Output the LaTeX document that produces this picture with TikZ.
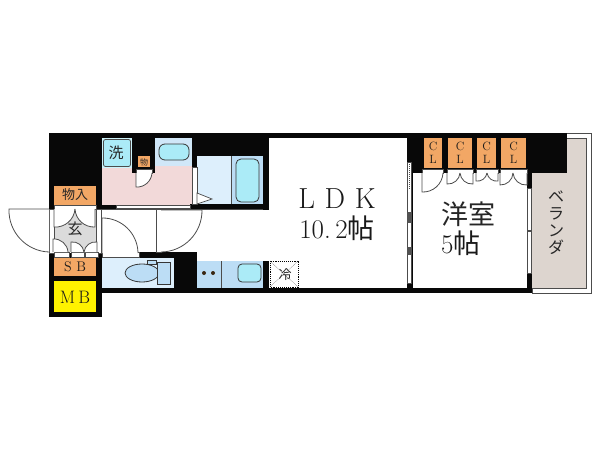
\documentclass[tikz,border=0pt]{standalone}
\usepackage{fontspec}
\newfontfamily\cjk{Noto Sans CJK JP}
\definecolor{mainBlack}{gray}{0.03}
\definecolor{lineGray}{gray}{0.3}
\definecolor{closetOrange}{HTML}{F2A765}
\definecolor{paleBlue}{HTML}{DDEFFC}
\definecolor{midBlue}{HTML}{BCDDF5}
\definecolor{tubBlue}{HTML}{ABEBF7}
\definecolor{washPink}{HTML}{F2D9D9}
\definecolor{porchGray}{HTML}{DBDBDB}
\definecolor{decoBeige}{HTML}{DDD5CF}
\tikzset{
  leaf/.style={draw=lineGray, fill=white, line width=0.8pt},
  strip/.style={draw=lineGray, fill=white, line width=0.7pt},
  tub/.style={draw=lineGray!70!black, fill=tubBlue, line width=0.8pt, rounded corners=4pt},
  tag/.style={font=\cjk, text=black!85, inner sep=0pt},
  roomtext/.style={text=black!90, inner sep=0pt},
}
\begin{document}
\begin{tikzpicture}[x=1pt, y=-1pt]
    \useasboundingbox (0,0) rectangle (600,450);

    % balcony
    \draw[lineGray, line width=0.8pt] (532,133) rectangle (591,293);
    \fill[decoBeige] (532,138) rectangle (586,288);
    \draw[lineGray, line width=0.8pt] (532,288) -- (586,288) -- (586,138) -- (567,138);

    % coloured rooms
    \fill[washPink] (102,166) rectangle (192,205);
    \fill[paleBlue] (197,156) rectangle (231,204);
    \fill[midBlue] (231,156) rectangle (263,204);
    \fill[tubBlue!60] (102,138) rectangle (132,168);
    \fill[midBlue!70] (155,138) rectangle (192,166);
    \fill[paleBlue] (102,257) rectangle (174,288);
    \fill[midBlue] (197,261) rectangle (263,288);
    \fill[porchGray] (54,209) rectangle (96,252);

    % walls
    \fill[mainBlack] (49,133) rectangle (567,138);
    \fill[mainBlack] (49,133) rectangle (102,209);
    \fill[mainBlack] (132,133) rectangle (155,173);
    \fill[mainBlack] (192,133) rectangle (269,156);
    \fill[mainBlack] (192,133) rectangle (197,167);
    \fill[mainBlack] (263,133) rectangle (269,210);
    \fill[mainBlack] (190,204) rectangle (269,210);
    \fill[mainBlack] (100,205) rectangle (116,209);
    \fill[mainBlack] (407,133) rectangle (567,173);
    \fill[mainBlack] (49,253) rectangle (102,317);
    \fill[mainBlack] (139,252) rectangle (197,258);
    \fill[mainBlack] (174,252) rectangle (197,293);
    \fill[mainBlack] (102,288) rectangle (197,293);
    \fill[mainBlack] (263,261) rectangle (269,293);
    \fill[mainBlack] (197,288) rectangle (532,293);
    \fill[mainBlack] (527,173) rectangle (532,188);
    \fill[mainBlack] (527,273) rectangle (532,293);
    \fill[mainBlack] (411,173) rectangle (412.5,288);
    \fill[mainBlack] (407,283) rectangle (412,293);

    % sliding strips
    \filldraw[strip] (192.5,167) rectangle (197,204);
    \filldraw[strip] (116,205) rectangle (190,208.5);
    \draw[white, densely dashed, line width=1.4pt] (153,207) -- (190,207);
    \filldraw[strip] (407.5,162) rectangle (411,283);
    \draw[lineGray, densely dotted, line width=1pt] (409,164) -- (409,190);
    \fill[mainBlack!70] (407,212) rectangle (412,223);
    \fill[mainBlack!70] (407,247) rectangle (412,255);
    \filldraw[strip] (527.5,188) rectangle (531.5,273);
    \draw[lineGray, line width=1.2pt] (527,231) -- (532,231);
    \draw[lineGray, line width=0.8pt] (100,209.5) -- (156,209.5);
    \draw[lineGray, line width=0.8pt] (161,209.5) -- (263,209.5);

    % hall walls
    \filldraw[strip] (49.5,209) rectangle (54,253);
    \filldraw[strip] (96,209) rectangle (101,253);
    \filldraw[strip] (156,209.5) rectangle (161,252.5);
    \filldraw[strip] (54,205) rectangle (96,209);
    \filldraw[strip] (54,252.5) rectangle (69,257);
    \filldraw[strip] (71,252.5) rectangle (84,257);
    \filldraw[strip] (85,252.5) rectangle (98,257);
    \filldraw[strip] (102,252.5) rectangle (139,257);
    \filldraw[strip] (136,169.5) rectangle (152,173);
    \filldraw[strip] (422,169) rectangle (443,173);
    \filldraw[strip] (447,169) rectangle (473,173);
    \filldraw[strip] (476,169) rectangle (498,173);
    \filldraw[strip] (500,169) rectangle (527,173);

    % doors
    \path[leaf] (49,209) -- (9,209) to[bend right=45] (49,252);
    \path[leaf] (161,252) to[bend right=45] (202,210) -- (161,210);
    \path[leaf] (102,253) -- (102,218) to[bend left=45] (138,253);
    \path[leaf] (136,173) -- (136,187) to[bend right=45] (152,173);
    \path[leaf] (54,209) -- (54,227) to[bend right=45] (75,209);
    \path[leaf] (95,209) -- (95,227) to[bend left=45] (75,209);
    \path[leaf] (53,252) -- (53,239) to[bend left=45] (68,252);
    \path[leaf] (71,252) -- (71,242) to[bend left=45] (84,252);
    \path[leaf] (97,252) -- (97,242) to[bend right=45] (84,252);
    \path[leaf] (422,173) -- (422,192) to[bend right=45] (443,173);
    \path[leaf] (447,173) -- (447,184) to[bend right=45] (460,173);
    \path[leaf] (473,173) -- (473,184) to[bend left=45] (460,173);
    \path[leaf] (476,173) -- (476,181) to[bend right=45] (487,173);
    \path[leaf] (498,173) -- (498,181) to[bend left=45] (487,173);
    \path[leaf] (500,173) -- (500,185) to[bend right=45] (513,173);
    \path[leaf] (527,173) -- (527,185) to[bend left=45] (513,173);

    % fixtures
    \draw[lineGray, line width=0.8pt, fill=tubBlue, rounded corners=2pt] (103.5,139.5) rectangle (130.5,166.5);
    \draw[tub, rounded corners=6pt] (159,144) rectangle (189,160);
    \draw[tub, rounded corners=5pt] (236,159) rectangle (259,202);
    \draw[lineGray, line width=0.7pt] (231,156) -- (231,204);
    \filldraw[draw=lineGray, fill=white, line width=0.7pt] (197,193) -- (212,199) -- (197,204) -- cycle;
    \draw[lineGray!70!black, fill=midBlue, line width=0.8pt] (142,273) ellipse (17 and 9);
    \draw[lineGray!70!black, fill=midBlue, line width=0.8pt] (157,262) rectangle (170,284);
    \draw[lineGray!70!black, fill=midBlue, line width=0.8pt] (147,260) rectangle (156,264);
    \draw[lineGray, line width=0.7pt] (221,261) -- (221,288);
    \draw[tub] (238,264) rectangle (261,282);
    \fill[black!70!brown] (204,273) circle (2);
    \fill[black!70!brown] (213,273) circle (2);
    \draw[black, densely dotted, line width=0.9pt] (270,261) rectangle (298,287);
    \draw[black!60, densely dotted, line width=0.5pt] (270,261) -- (298,287) (298,261) -- (270,287);

    % labels
    \fill[closetOrange] (54,186) rectangle (96,205);
    \node[tag, font=\cjk\fontsize{13}{13}\selectfont] (closetHall) at (75,195) {物入};
    \fill[closetOrange] (54,258) rectangle (96,276);
    \node[roomtext, font=\fontsize{14}{14}\selectfont] (shoeBox) at (75,267) {S\,\,B};
    \fill[yellow] (54,281) rectangle (96,312);
    \node[roomtext, font=\fontsize{18}{18}\selectfont] (meterBox) at (75,297) {M\,B};
    \node[tag, font=\cjk\fontsize{15}{15}\selectfont] (porch) at (75,229) {玄};
    \node[tag, font=\cjk\fontsize{15}{15}\selectfont] (washer) at (116,153) {洗};
    \fill[closetOrange] (138,156) rectangle (150,167);
    \node[tag, font=\cjk\fontsize{8}{8}\selectfont] (closetWash) at (144,162) {物};
    \node[tag, font=\cjk\fontsize{13}{13}\selectfont] (fridge) at (285,275) {冷};
    \foreach \xa/\xb/\nm in {424/442/a, 448/472/b, 477/496/c, 501/526/d} {
      \fill[closetOrange] (\xa,138) rectangle (\xb,168);
      \node[roomtext, font=\fontsize{12}{12}\selectfont, align=center] (closet\nm) at ({(\xa+\xb)/2},153) {C\\[1pt]L};
    }
    \node[roomtext, font=\fontsize{29}{29}\selectfont] (ldkName) at (337,199) {L\,\,D\,\,K};
    \node[roomtext, font=\fontsize{27}{27}\selectfont] (ldkSize) at (337,228) {10.\,2{\cjk\fontsize{27}{27}\selectfont 帖}};
    \node[tag, font=\cjk\fontsize{27}{27}\selectfont] (roomName) at (468,214) {洋室};
    \node[roomtext, font=\fontsize{27}{27}\selectfont, anchor=west] (roomSize) at (441,243) {5{\cjk\fontsize{27}{27}\selectfont 帖}};
    \node[tag, font=\cjk\fontsize{16}{17}\selectfont, align=center] (balcony) at (556,223) {ベ\\ラ\\ン\\ダ};
\end{tikzpicture}
\end{document}
